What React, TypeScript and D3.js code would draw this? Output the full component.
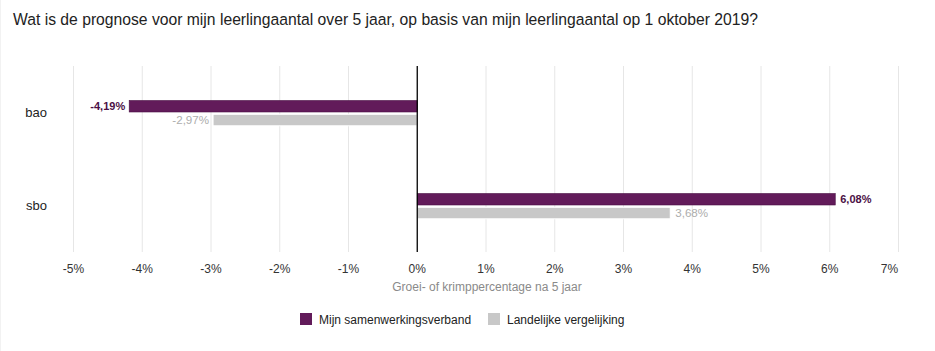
import React from "react";
import * as d3 from "d3";

const categories = ["bao", "sbo"];
const seriesNames = ["Mijn samenwerkingsverband", "Landelijke vergelijking"];
const mijnValues = [-4.19, 6.08];
const landelijkValues = [-2.97, 3.68];
const tickValues = [-5, -4, -3, -2, -1, 0, 1, 2, 3, 4, 5, 6, 7];
const title = "Wat is de prognose voor mijn leerlingaantal over 5 jaar, op basis van mijn leerlingaantal op 1 oktober 2019?";
const axisTitle = "Groei- of krimppercentage na 5 jaar";

const W = 935;
const H = 351;
const colors = ["#621b5a", "#c8c8c8"];
const labelColors = ["#4b1045", "#adadad"];
const font = "'Liberation Sans', Arial, sans-serif";

const fmt = (v: number) => v.toFixed(2).replace(".", ",") + "%";

export default function App() {
  const x = d3.scaleLinear().domain([-5, 7]).range([73.5, 898.5]);
  const y = d3.scaleBand().domain(categories).range([66, 252]);
  const series = [mijnValues, landelijkValues];
  const barH = 11.5;
  const offsets = [-12, 1.8];

  return (
    <div style={{ position: "absolute", left: 0, top: 0 }}>
      <svg width={W} height={H} style={{ display: "block" }} fontFamily={font}>
        <rect x={0} y={0} width={W} height={H} fill="#fff" />
        <line x1={0.5} y1={0} x2={0.5} y2={H} stroke="#f2f2f2" />
        <text x={13} y={25} fontSize={16.3} fill="#222" textLength={745} lengthAdjust="spacingAndGlyphs">{title}</text>
        {tickValues.map((t) =>
          t === 0 ? null : (
            <line key={"g" + t} x1={x(t)} x2={x(t)} y1={66} y2={252} stroke="#e6e6e6" strokeWidth={1} />
          )
        )}
        {tickValues.map((t, i) => (
          <text
            key={"t" + t}
            x={i === tickValues.length - 1 ? x(t) - 9 : x(t)}
            y={273}
            textAnchor="middle"
            fontSize={12}
            fill="#333"
          >
            {t + "%"}
          </text>
        ))}
        <text x={487} y={291} textAnchor="middle" fontSize={12} fill="#8a8a8a">{axisTitle}</text>
        {categories.map((c) => (
          <text key={c} x={47} y={(y(c) as number) + y.bandwidth() / 2 + 4.5} textAnchor="end" fontSize={13} fill="#222">
            {c}
          </text>
        ))}
        {series.map((vals, si) =>
          vals.map((v, ci) => {
            const cy = (y(categories[ci]) as number) + y.bandwidth() / 2;
            const x0 = x(Math.min(0, v));
            const x1 = x(Math.max(0, v));
            const top = cy + offsets[si];
            return (
              <g key={si + "-" + ci}>
                <rect
                  x={x0}
                  y={top}
                  width={x1 - x0}
                  height={barH}
                  fill={colors[si]}
                  stroke={si === 0 ? "#4a0f44" : "#fff"}
                  strokeWidth={si === 0 ? 0.6 : 1}
                />
                <text
                  x={v < 0 ? x0 - 4 : x1 + 5}
                  y={top + barH / 2 + 4}
                  textAnchor={v < 0 ? "end" : "start"}
                  fontSize={si === 0 ? 11 : 11.6}
                  fontWeight={si === 0 ? "bold" : "normal"}
                  fill={labelColors[si]}
                >
                  {fmt(v)}
                </text>
              </g>
            );
          })
        )}
        <line x1={x(0)} x2={x(0)} y1={66} y2={252} stroke="#000" strokeWidth={1.3} />
        {seriesNames.map((n, i) => {
          const lx = i === 0 ? 300 : 488;
          return (
            <g key={n}>
              <rect x={lx} y={313} width={12} height={12} fill={colors[i]} />
              <text x={lx + 19} y={323.5} fontSize={12} fill="#222">{n}</text>
            </g>
          );
        })}
      </svg>
    </div>
  );
}
